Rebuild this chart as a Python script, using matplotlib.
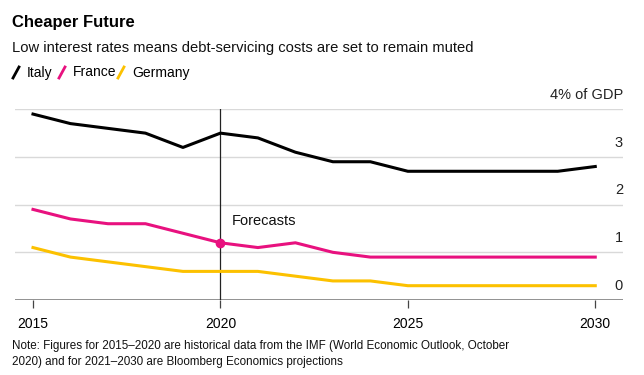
import matplotlib
matplotlib.use("Agg")
import matplotlib.pyplot as plt
import matplotlib.transforms as mtransforms
from matplotlib.lines import Line2D

plt.rcParams['font.family'] = ['Liberation Sans', 'DejaVu Sans']

years = list(range(2015, 2031))
italy = [3.9, 3.7, 3.6, 3.5, 3.2, 3.5, 3.4, 3.1, 2.9, 2.9, 2.7, 2.7, 2.7, 2.7, 2.7, 2.8]
france = [1.9, 1.7, 1.6, 1.6, 1.4, 1.2, 1.1, 1.2, 1.0, 0.9, 0.9, 0.9, 0.9, 0.9, 0.9, 0.9]
germany = [1.1, 0.9, 0.8, 0.7, 0.6, 0.6, 0.6, 0.5, 0.4, 0.4, 0.3, 0.3, 0.3, 0.3, 0.3, 0.3]
series_names = ["Italy", "France", "Germany"]
colors = ["#000000", "#e8117f", "#fcc100"]
y_ticks = [0, 1, 2, 3, 4]
y_labels = ["0", "1", "2", "3", "4% of GDP"]
x_ticks = [2015, 2020, 2025, 2030]

fig = plt.figure(figsize=(6.44, 3.75), dpi=100)
ax = fig.add_axes([15 / 644, 75 / 375, 608 / 644, 190.7 / 375])

for vals, c in zip([italy, france, germany], colors):
    ax.plot(years, vals, color=c, lw=2.2, solid_joinstyle="round", zorder=3)

ax.set_xlim(2014.52, 2030.74)
ax.set_ylim(0, 4)

# gridlines
for t in y_ticks[1:]:
    ax.axhline(t, color="#d9d9d9", lw=1, zorder=1)
ax.axhline(0, color="#7f7f7f", lw=1.2, zorder=2)

# y labels sit above their gridlines on the right
trans = mtransforms.blended_transform_factory(ax.transAxes, ax.transData)
for t, lab in zip(y_ticks, y_labels):
    ax.text(1.0, t + 0.15, lab, transform=trans, ha="right", va="bottom",
            fontsize=10.5, color="#222222")

# forecast marker
ax.axvline(2020, ymin=0, ymax=1, color="#222222", lw=0.9, zorder=2)
ax.plot([2020], [france[5]], "o", color=colors[1], ms=6, zorder=4)
ax.text(2020.3, 1.5, "Forecasts", fontsize=10.5, ha="left", va="bottom", color="#111111")

for s in ax.spines.values():
    s.set_visible(False)
ax.set_yticks([])
ax.set_xticks(x_ticks)
ax.set_xticklabels([str(x) for x in x_ticks], fontsize=10)
ax.tick_params(axis="x", length=6, width=0.9, color="#444444", pad=6, direction="out")

# header
fig.text(12 / 644, 1 - 22 / 375, "Cheaper Future", fontsize=12, fontweight="bold", va="center")
fig.text(12 / 644, 1 - 48 / 375, "Low interest rates means debt-servicing costs are set to remain muted",
         fontsize=10.6, va="center", color="#111111")

# legend
lx = [12, 58, 117]
for x0, name, c in zip(lx, series_names, colors):
    fig.add_artist(Line2D([(x0 + 1) / 644, (x0 + 7) / 644], [1 - 78 / 375, 1 - 67 / 375],
                          color=c, lw=2, transform=fig.transFigure))
    fig.text((x0 + 15) / 644, 1 - 72.5 / 375, name, fontsize=10, va="center")

fig.text(12 / 644, 1 - 354 / 375,
         "Note: Figures for 2015\u20132020 are historical data from the IMF (World Economic Outlook, October\n"
         "2020) and for 2021\u20132030 are Bloomberg Economics projections",
         fontsize=8.4, va="center", linespacing=1.45, color="#111111")

fig.savefig("out.png", dpi=100, facecolor="white")
